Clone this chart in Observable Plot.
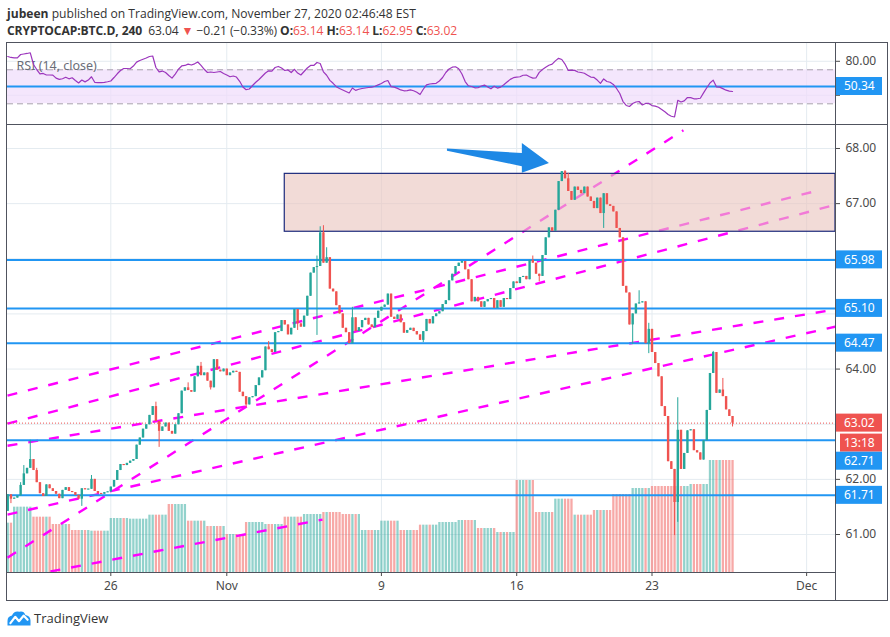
<!DOCTYPE html>
<html>
<head>
<meta charset="utf-8">
<script src="https://cdn.jsdelivr.net/npm/d3@7"></script>
<script src="https://cdn.jsdelivr.net/npm/@observablehq/plot@0.6"></script>
<style>
  html, body { margin: 0; padding: 0; background: #fff; }
  body { width: 890px; height: 637px; position: relative; overflow: hidden; font-family: "Open Sans", sans-serif; color: #333; }
  .hdr { position: absolute; left: 7px; white-space: nowrap; font-size: 12.1px; }
  #hdr1 { top: 5px; }
  #hdr2 { top: 22px; letter-spacing: -0.1px; }
  .hdr b { font-weight: 700; }
  .red { color: #ef5350; }
  .layer { position: absolute; left: 0; }
  .layer svg { display: block; }
  .line { position: absolute; background: #50535e; }
  #logo { position: absolute; left: 7px; top: 609px; display: flex; align-items: center; font-size: 13px; color: #333; }
  #logo svg { margin-right: 3px; }
</style>
</head>
<body>
<div id="hdr1" class="hdr"><b>jubeen</b> published on TradingView.com, November 27, 2020 02:46:48 EST</div>
<div id="hdr2" class="hdr"><b>CRYPTOCAP:BTC.D, 240</b>&nbsp; 63.04 <span class="red">&#9660;</span> &minus;0.21 (&minus;0.33%) <b>O:</b><span class="red">63.14</span> <b>H:</b><span class="red">63.14</span> <b>L:</b><span class="red">62.95</span> <b>C:</b><span class="red">63.02</span></div>

<div id="rsiPane" class="layer" style="top:42px"></div>
<div id="gridPane" class="layer" style="top:124px"></div>
<div id="volPane" class="layer" style="top:124px"></div>
<div id="pricePane" class="layer" style="top:124px"></div>

<div class="line" style="left:6px;top:42px;width:882px;height:1px"></div>
<div class="line" style="left:6px;top:600px;width:882px;height:1px"></div>
<div class="line" style="left:6px;top:42px;width:1px;height:559px"></div>
<div class="line" style="left:887px;top:42px;width:1px;height:559px"></div>
<div class="line" style="left:835px;top:42px;width:1px;height:559px"></div>
<div class="line" style="left:6px;top:124px;width:882px;height:1px"></div>
<div class="line" style="left:6px;top:572px;width:830px;height:1px"></div>

<div id="logo">
  <svg width="24" height="16" viewBox="0 0 24 16">
    <path d="M0.5 15.5 V11 Q0.5 6.4 5 5.6 Q7 0.6 12.4 1.8 Q16.8 0.8 18.4 5 Q23.4 5.8 23.5 10.6 V15.5 Z" fill="#2196f3"/>
    <polyline points="3.4,13.2 8.2,6.8 12,11.2 16.6,5.6 20.6,9.8" fill="none" stroke="#fff" stroke-width="2.2" stroke-linejoin="round" stroke-linecap="round"/>
  </svg>
  <span>TradingView</span>
</div>

<script>
// ---- 4-hour BTC dominance bars, Oct 20 16:00 UTC to Nov 27 04:00 UTC ----
const candleStart = "2020-10-20T16:00Z";
const barHours = 4;
const firstOpen = 61.42;
const closes = [
  61.72, 61.64, 61.66, 61.70, 61.89, 62.10, 62.20, 62.36, 62.16, 61.94,
  61.74, 61.69, 61.90, 61.83, 61.78, 61.73, 61.65, 61.80, 61.85, 61.78,
  61.76, 61.71, 61.64, 61.83, 61.81, 61.82, 62.00, 61.78, 61.74, 61.73,
  61.76, 61.77, 61.86, 61.98, 62.16, 62.27, 62.25, 62.29, 62.33, 62.36,
  62.62, 62.75, 62.91, 62.99, 63.16, 63.32, 63.05, 62.87, 62.95, 63.02,
  62.87, 62.82, 62.99, 63.19, 63.60, 63.66, 63.61, 63.58, 63.86, 64.05,
  63.88, 63.93, 63.78, 63.66, 64.17, 63.98, 63.95, 64.00, 63.88, 63.93,
  63.96, 63.94, 63.58, 63.50, 63.35, 63.48, 63.50, 63.70, 63.84, 63.97,
  64.40, 64.35, 64.30, 64.66, 64.68, 64.88, 64.80, 64.62, 64.74, 65.08,
  64.82, 64.76, 64.96, 65.32, 65.74, 65.84, 65.86, 66.47, 65.92, 66.02,
  65.45, 65.40, 65.15, 65.00, 64.74, 64.66, 64.46, 64.93, 64.68, 64.75,
  64.88, 64.92, 64.80, 64.75, 64.92, 65.05, 65.12, 65.16, 65.36, 64.94,
  64.90, 64.98, 64.84, 64.65, 64.70, 64.74, 64.68, 64.62, 64.52, 64.68,
  64.90, 64.82, 64.95, 65.00, 65.04, 65.17, 65.24, 65.60, 65.72, 65.86,
  65.92, 65.95, 65.80, 65.62, 65.22, 65.30, 65.22, 65.12, 65.22, 65.26,
  65.28, 65.10, 65.24, 65.12, 65.28, 65.26, 65.46, 65.58, 65.55, 65.66,
  65.68, 65.62, 65.97, 65.92, 65.72, 65.68, 66.06, 66.38, 66.56, 66.50,
  66.88, 67.40, 67.58, 67.45, 67.22, 67.06, 67.30, 67.24, 67.18, 67.30,
  67.12, 67.04, 66.91, 67.10, 66.82, 67.18, 66.98, 66.95, 66.85, 66.55,
  66.38, 65.50, 65.38, 64.80, 65.00, 65.18, 65.20, 65.22, 64.46, 64.72,
  64.30, 64.10, 63.86, 63.32, 63.14, 62.32, 62.18, 61.58, 62.89, 62.18,
  62.47, 62.88, 62.90, 62.52, 62.48, 62.35, 62.70, 63.25, 63.92, 64.30,
  63.56, 63.62, 63.50, 63.26, 63.14, 63.02
];
// wick extremes that reach past the candle body: [bar index, price]
const wickHighs = [
  [4, 61.94], [5, 62.25], [7, 62.71], [9, 62.20], [26, 62.07], [46, 63.40],
  [56, 63.75], [60, 64.12], [81, 64.50], [96, 66.05], [97, 66.58], [98, 66.60],
  [99, 66.20], [107, 65.12], [163, 66.05], [173, 67.60], [174, 67.55],
  [196, 65.42], [199, 64.83], [208, 63.48], [219, 64.32], [222, 63.83]
];
const wickLows = [
  [1, 61.56], [23, 61.51], [47, 62.58], [63, 63.62], [74, 63.30], [90, 64.70],
  [96, 64.61], [129, 64.48], [165, 65.58], [185, 66.55], [194, 64.45],
  [199, 64.28], [207, 60.98], [208, 61.22], [225, 62.95]
];
// daily volume (bn USD), Oct 20 .. Nov 27, repeated on each 4h bar of the day
const volumeStart = "2020-10-20T00:00Z";
const dailyVolume = [
  74, 98, 83, 72, 63, 62, 81, 80, 86, 102, 77, 69,
  57, 75, 72, 83, 87, 90, 87, 63, 77, 63, 71, 75, 78, 66, 60,
  138, 90, 110, 86, 93, 117, 126, 129, 129, 132, 168, 168
];
// RSI(14, close) per bar
const rsi = [
  85.6, 84.5, 84.1, 84.1, 88.0, 88.6, 89.2, 90.0, 76.2, 70.3,
  65.1, 65.7, 63.9, 63.9, 63.8, 60.2, 58.8, 59.5, 61.2, 59.4,
  60.6, 57.4, 54.5, 58.0, 55.8, 57.9, 61.8, 55.3, 55.0, 54.8,
  55.3, 55.9, 56.8, 60.9, 65.3, 69.2, 71.5, 71.5, 71.2, 74.4,
  79.0, 81.0, 82.4, 83.8, 85.6, 86.2, 72.7, 67.5, 68.5, 66.8,
  63.3, 60.2, 65.0, 70.6, 74.5, 75.1, 76.7, 75.6, 77.0, 79.2,
  75.1, 70.6, 66.8, 67.4, 66.8, 67.4, 68.0, 65.7, 63.9, 61.8,
  62.7, 61.5, 56.5, 49.8, 46.6, 47.4, 51.5, 55.3, 58.6, 62.4,
  66.2, 68.8, 68.5, 72.7, 73.9, 72.1, 69.2, 69.8, 66.8, 70.6,
  66.2, 63.9, 68.0, 72.1, 75.1, 75.1, 78.6, 77.4, 67.6, 63.6,
  57.6, 54.1, 50.1, 48.0, 46.2, 44.5, 42.7, 48.6, 45.8, 47.1,
  48.0, 48.6, 49.2, 49.5, 50.7, 52.3, 53.9, 56.2, 57.4, 50.2,
  49.6, 48.1, 46.3, 45.3, 45.5, 46.3, 45.3, 43.5, 40.9, 47.1,
  52.2, 53.3, 53.8, 54.1, 56.8, 60.9, 66.8, 70.9, 73.1, 73.6,
  71.2, 65.1, 56.2, 51.2, 50.3, 48.8, 48.9, 50.9, 52.0, 49.8,
  47.6, 50.7, 48.5, 49.6, 52.4, 55.6, 58.7, 60.7, 61.3, 61.8,
  63.6, 63.9, 61.8, 60.2, 60.6, 67.0, 70.3, 72.9, 75.3, 76.6,
  80.5, 83.5, 82.1, 76.7, 69.2, 69.7, 69.3, 67.4, 66.8, 65.9,
  63.6, 61.4, 61.0, 57.9, 54.0, 59.2, 56.2, 55.3, 52.8, 48.0,
  42.1, 32.7, 28.0, 26.8, 30.4, 32.1, 32.7, 28.6, 30.4, 30.4,
  27.9, 27.3, 25.9, 23.3, 20.6, 17.5, 15.4, 14.5, 34.1, 32.1,
  33.5, 37.4, 37.3, 35.9, 35.9, 36.5, 42.8, 48.9, 54.5, 57.8,
  50.0, 49.6, 47.8, 46.0, 45.0, 44.5
];

// horizontal support / resistance levels and the last price
const levels = [65.98, 65.10, 64.47, 62.71, 61.71];
const rsiLevel = 50.34;
const lastPrice = 63.02;
const countdown = "13:18";

// axes (labels sitting under a price tag are left blank)
const priceTicks = [61, 62, 63, 64, 65, 66, 67, 68];
const priceTickLabels = ["61.00", "62.00", "", "64.00", "", "", "67.00", "68.00"];
const rsiTicks = [40, 80];
const rsiTickLabels = ["", "80.00"];
const dateTicks = ["2020-10-26", "2020-11-01", "2020-11-09", "2020-11-16", "2020-11-23", "2020-12-01"];
const dateTickLabels = ["26", "Nov", "9", "16", "23", "Dec"];

// drawings: supply/demand zone, dashed trend lines, arrow
const zone = {start: "2020-11-04T00:00Z", low: 66.49, high: 67.54};
const trendLines = [
  {t1: "2020-10-20T15:45Z", p1: 60.58, t2: "2020-11-24T15:00Z", p2: 68.33},
  {t1: "2020-10-20T15:45Z", p1: 63.52, t2: "2020-12-01T14:40Z", p2: 67.24},
  {t1: "2020-10-20T15:45Z", p1: 63.01, t2: "2020-12-02T11:51Z", p2: 66.98},
  {t1: "2020-10-20T15:45Z", p1: 62.61, t2: "2020-12-02T11:51Z", p2: 65.08},
  {t1: "2020-10-20T15:45Z", p1: 61.36, t2: "2020-12-02T11:51Z", p2: 64.77},
  {t1: "2020-10-22T21:00Z", p1: 60.33, t2: "2020-11-05T22:50Z", p2: 61.27}
];
const arrowShape = [
  {t: "2020-11-12T10:00Z", lo: 67.95, hi: 67.99},
  {t: "2020-11-16T07:00Z", lo: 67.67, hi: 67.91},
  {t: "2020-11-16T07:00Z", lo: 67.55, hi: 68.09},
  {t: "2020-11-17T16:40Z", lo: 67.73, hi: 67.73}
];

// ---- build tables ----
const UP = "#26a69a", DOWN = "#ef5350", BLUE = "#2196f3", GRID = "#e4ebf0";
const HOUR = 3600e3, DAY = 24 * HOUR;
const t0 = new Date(candleStart);
const v0 = new Date(volumeStart);
const bars = closes.map((c, i) => {
  const o = i ? closes[i - 1] : firstOpen;
  const date = new Date(+t0 + i * barHours * HOUR);
  const lo = Math.min(o, c), hi = Math.max(o, c);
  const pad = Math.max(0, 0.02 - (hi - lo)) / 2;
  return {
    date, open: o, close: c, high: hi, low: lo,
    bodyLo: lo - pad, bodyHi: hi + pad,
    color: c >= o ? UP : DOWN,
    volume: dailyVolume[Math.floor((date - v0) / DAY)],
    rsi: rsi[i]
  };
});
wickHighs.forEach(([i, v]) => { bars[i].high = v; });
wickLows.forEach(([i, v]) => { bars[i].low = v; });

const xDomain = [new Date("2020-10-20T15:43Z"), new Date("2020-12-02T11:51Z")];
const yDomain = [60.311, 68.435];
const tickDates = dateTicks.map(d => new Date(d + "T00:00Z"));
const tickLabel = new Map(tickDates.map((d, i) => [+d, dateTickLabels[i]]));
const priceLabel = new Map(priceTicks.map((d, i) => [d, priceTickLabels[i]]));
const rsiLabel = new Map(rsiTicks.map((d, i) => [d, rsiTickLabels[i]]));
const lines = trendLines.map(d => ({...d, t1: new Date(d.t1), t2: new Date(d.t2)}));
const arrow = arrowShape.map(d => ({...d, t: new Date(d.t)}));

const font = "'Noto Sans', sans-serif";
const frame = {width: 890, height: 476, marginLeft: 7, marginRight: 55, marginTop: 0, marginBottom: 28};

// grid and axes
const gridPlot = Plot.plot({
  ...frame,
  style: {background: "#fff", fontFamily: font, fontSize: "12px", color: "#4a4a4a"},
  x: {type: "utc", domain: xDomain, ticks: tickDates, tickFormat: d => tickLabel.get(+d), tickSize: 4, tickPadding: 5, label: null},
  y: {domain: yDomain, axis: "right", ticks: priceTicks, tickFormat: d => priceLabel.get(d), tickSize: 4, tickPadding: 6, label: null},
  marks: [
    Plot.ruleY(priceTicks, {stroke: GRID}),
    Plot.ruleX(tickDates, {stroke: GRID})
  ]
});
document.getElementById("gridPane").append(gridPlot);

// volume overlay
const volPlot = Plot.plot({
  ...frame,
  style: {background: "transparent"},
  x: {type: "utc", domain: xDomain, axis: null},
  y: {domain: [0, 672], axis: null},
  marks: [
    Plot.ruleX(bars, {x: "date", y1: 0, y2: "volume", stroke: "color", strokeOpacity: 0.5, strokeWidth: 2.3})
  ]
});
document.getElementById("volPane").append(volPlot);

// price drawings and candles
const pricePlot = Plot.plot({
  ...frame,
  style: {background: "transparent", fontFamily: font},
  x: {type: "utc", domain: xDomain, axis: null},
  y: {domain: yDomain, axis: null},
  marks: [
    Plot.link(lines, {x1: "t1", y1: "p1", x2: "t2", y2: "p2", stroke: "#ff00ff", strokeWidth: 2.4, strokeDasharray: "10,11", clip: true}),
    Plot.rect([zone], {x1: d => new Date(d.start), x2: () => xDomain[1], y1: "low", y2: "high",
      fill: "#eac5be", fillOpacity: 0.62, stroke: "#1c2a7c", strokeWidth: 1.2, clip: true}),
    Plot.ruleY(levels, {stroke: BLUE, strokeWidth: 2}),
    Plot.ruleY([lastPrice], {stroke: DOWN, strokeWidth: 1, strokeDasharray: "1,2"}),
    Plot.ruleX(bars, {x: "date", y1: "low", y2: "high", stroke: "color", strokeWidth: 1}),
    Plot.ruleX(bars, {x: "date", y1: "bodyLo", y2: "bodyHi", stroke: "color", strokeWidth: 2.4}),
    Plot.area(arrow, {x1: "t", y1: "lo", y2: "hi", fill: "#1e88e5", curve: "linear"})
  ]
});
document.getElementById("pricePane").append(pricePlot);

// price tags on the right axis
function addTags(plot, tags) {
  const y = plot.scale("y");
  const g = d3.select(plot).append("g")
    .attr("font-family", font).attr("font-size", 12).attr("text-anchor", "start");
  tags.forEach(tag => {
    const cy = y.apply(tag.value) + (tag.shift || 0);
    const x0 = tag.x0 || 836;
    g.append("rect").attr("x", x0).attr("y", cy - 9)
      .attr("width", 882 - x0).attr("height", 18).attr("fill", tag.color);
    g.append("text").attr("x", 844).attr("y", cy).attr("dy", "0.35em")
      .attr("fill", "#fff").text(tag.text);
  });
}
addTags(pricePlot, [
  {value: levels[0], text: levels[0].toFixed(2), color: BLUE},
  {value: levels[1], text: levels[1].toFixed(2), color: BLUE},
  {value: levels[2], text: levels[2].toFixed(2), color: BLUE},
  {value: lastPrice, text: lastPrice.toFixed(2), color: DOWN},
  {value: lastPrice, text: countdown, color: DOWN, shift: 20, x0: 840},
  {value: levels[3], text: levels[3].toFixed(2), color: BLUE, shift: 21},
  {value: levels[4], text: levels[4].toFixed(2), color: BLUE}
]);

// RSI pane
const rsiPlot = Plot.plot({
  width: 890, height: 82, marginLeft: 7, marginRight: 55, marginTop: 0, marginBottom: 0,
  style: {background: "#fff", fontFamily: font, fontSize: "12px", color: "#4a4a4a"},
  x: {type: "utc", domain: xDomain, axis: null},
  y: {domain: [5.65, 102.1], axis: "right", ticks: rsiTicks, tickFormat: d => rsiLabel.get(d), tickSize: 4, tickPadding: 6, label: null},
  marks: [
    Plot.ruleY(rsiTicks, {stroke: GRID}),
    Plot.ruleX(tickDates, {stroke: GRID}),
    Plot.rect([{}], {x1: () => xDomain[0], x2: () => xDomain[1], y1: 30, y2: 70, fill: "#efdcfb", fillOpacity: 0.7}),
    Plot.ruleY([30, 70], {stroke: "#a9a2ad", strokeDasharray: "6,4"}),
    Plot.text([0], {frameAnchor: "top-left", dx: 9, dy: 19, text: () => "RSI (14, close)", textAnchor: "start", fill: "#6a6d78", fontSize: 12.5}),
    Plot.ruleY([rsiLevel], {stroke: BLUE, strokeWidth: 2}),
    Plot.line(bars, {x: "date", y: "rsi", stroke: "#9c36bd", strokeWidth: 1.2})
  ]
});
document.getElementById("rsiPane").append(rsiPlot);
addTags(rsiPlot, [{value: rsiLevel, text: rsiLevel.toFixed(2), color: BLUE}]);
</script>
</body>
</html>
